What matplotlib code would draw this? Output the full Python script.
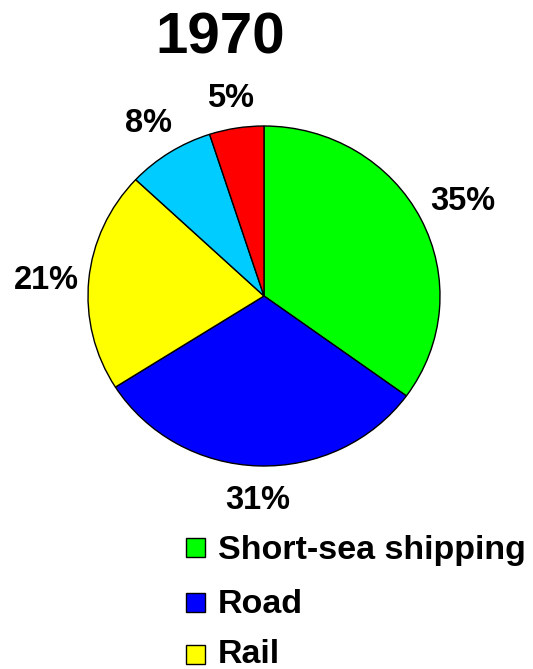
import matplotlib
matplotlib.use("Agg")
import matplotlib.pyplot as plt
from matplotlib.patches import Rectangle
import matplotlib.transforms as mtransforms
import numpy as np

title = "1970"
categories = ["Short-sea shipping", "Road", "Rail", "Inland waterways", "Pipelines"]
values = [35, 31, 21, 8, 5]
labels = ["35%", "31%", "21%", "8%", "5%"]
colors = ["#00FF00", "#0000FF", "#FFFF00", "#00CCFF", "#FF0000"]
legend_shown = 3

plt.rcParams['font.family'] = ['Liberation Sans', 'DejaVu Sans']

W, H = 533, 669
fig = plt.figure(figsize=(W / 100, H / 100), dpi=100)

# pie axes placed in pixel terms
cx, cy, rx, ry = 264, 296, 176, 170
ax = fig.add_axes([(cx - rx) / W, (H - cy - ry) / H, 2 * rx / W, 2 * ry / H])
wedges, _ = ax.pie(values, colors=colors, startangle=90, counterclock=False,
                   wedgeprops=dict(edgecolor="black", linewidth=1.0))
ax.set_aspect('auto')
ax.set_xlim(-1, 1)
ax.set_ylim(-1, 1)
ax.axis('off')

shift = mtransforms.ScaledTranslation(0, -4 / 100, fig.dpi_scale_trans)
label_dist = [1.27, 1.18, 1.24, 1.23, 1.20]
for w, lab, d in zip(wedges, labels, label_dist):
    ang = np.deg2rad((w.theta1 + w.theta2) / 2)
    ax.text(d * np.cos(ang), d * np.sin(ang), lab, ha='center', va='center',
            fontsize=23.5, fontweight='bold', clip_on=False,
            transform=ax.transData + shift)

fig.text(220 / W, 1 - 38 / H, title, ha='center', va='center',
         fontsize=42, fontweight='bold')

# legend (only the visible part)
box_y = [547, 602, 654]
base_y = [559, 613, 663]
for i in range(legend_shown):
    y = box_y[i]
    fig.patches.append(Rectangle((186 / W, 1 - (y + 9.5) / H), 19 / W, 19 / H,
                                 transform=fig.transFigure, facecolor=colors[i],
                                 edgecolor="black", linewidth=1.0))
    fig.text(218 / W, 1 - base_y[i] / H, categories[i], ha='left', va='baseline',
             fontsize=24.5, fontweight='bold')

fig.savefig("out.png", dpi=100)
